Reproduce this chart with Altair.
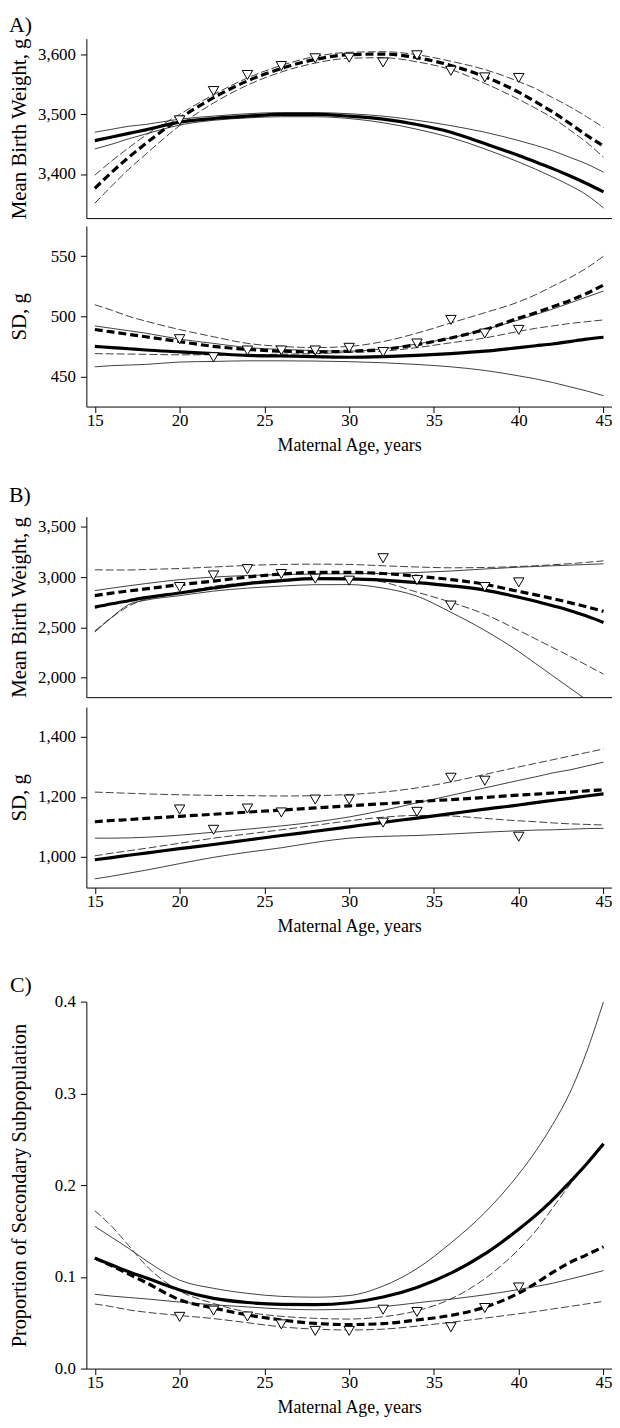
import altair as alt
import pandas as pd

# ---------------- data ----------------
AGES = [15, 16, 17, 18, 20, 22, 24, 26, 28, 30, 32, 34, 36, 38, 40, 41, 42, 43, 44, 45]
TRI_AGES = [20, 22, 24, 26, 28, 30, 32, 34, 36, 38, 40]
XTICKS = [15, 20, 25, 30, 35, 40, 45]

# Panel A – mean birth weight (g)
A_BW_SOLID = [3456, 3462, 3468, 3474, 3487, 3493, 3497, 3500, 3500, 3497, 3492, 3483, 3470, 3451, 3431, 3420, 3409, 3397, 3384, 3370]
A_BW_SOLID_HI = [3470, 3475, 3480, 3483, 3492, 3497, 3501, 3503, 3503, 3501, 3497, 3490, 3481, 3470, 3456, 3448, 3439, 3428, 3417, 3403]
A_BW_SOLID_LO = [3442, 3450, 3459, 3467, 3482, 3490, 3494, 3496, 3496, 3493, 3486, 3475, 3461, 3442, 3420, 3408, 3395, 3381, 3365, 3343]
A_BW_DASH = [3376, 3403, 3428, 3451, 3493, 3528, 3556, 3577, 3592, 3600, 3601, 3595, 3582, 3563, 3537, 3521, 3504, 3485, 3465, 3447]
A_BW_DASH_HI = [3398, 3422, 3444, 3465, 3500, 3533, 3561, 3582, 3597, 3604, 3605, 3600, 3589, 3575, 3555, 3543, 3528, 3513, 3496, 3478]
A_BW_DASH_LO = [3351, 3380, 3408, 3433, 3481, 3519, 3549, 3571, 3586, 3594, 3595, 3588, 3575, 3552, 3525, 3510, 3494, 3474, 3453, 3428]
A_BW_TRI = [3490, 3539, 3566, 3581, 3594, 3595, 3587, 3599, 3573, 3562, 3561]

# Panel A – SD (g)
A_SD_SOLID = [475, 474, 473, 472, 470.5, 469, 467.5, 467, 466.5, 466, 466.5, 467.5, 469, 471, 474, 475.5, 477, 479, 481, 482.6]
A_SD_SOLID_HI = [492, 490, 488, 486, 481, 477.5, 474, 472.5, 471.5, 471, 473, 477, 482, 489, 497, 501.5, 506, 511, 516, 521]
A_SD_SOLID_LO = [458, 459, 459.5, 460, 462, 462.5, 463, 463, 462.8, 462.3, 461.4, 460, 458, 455, 450.5, 448, 445, 441.5, 438, 434]
A_SD_DASH = [489, 487, 485, 483, 479, 475, 472.5, 471, 470.5, 471, 472.5, 476.5, 482, 489, 498.5, 503, 508, 513, 519, 526]
A_SD_DASH_HI = [509.6, 505, 500, 496, 489, 483, 477.5, 475, 474, 475, 479, 486, 494.5, 503, 512, 518, 525, 532, 540, 550]
A_SD_DASH_LO = [469, 468.8, 468.6, 468.4, 468, 468, 468, 468.5, 469, 470, 471, 474, 478, 482, 487.5, 490, 492, 494, 495.5, 497]
A_SD_TRI = [481, 466, 471.6, 471.6, 471.6, 473.8, 470.3, 477.4, 497, 485.7, 488.7]

# Panel B – mean birth weight (g)
B_BW_SOLID = [2701, 2735, 2765, 2795, 2842, 2891, 2935, 2965, 2984, 2982, 2970, 2945, 2913, 2870, 2800, 2760, 2715, 2668, 2612, 2548]
B_BW_SOLID_HI = [2865, 2890, 2913, 2935, 2974, 3000, 3015, 3025, 3030, 3032, 3035, 3045, 3060, 3080, 3098, 3105, 3112, 3118, 3125, 3131]
B_BW_SOLID_LO = [2454, 2600, 2727, 2770, 2815, 2860, 2890, 2910, 2924, 2925, 2890, 2810, 2650, 2470, 2260, 2140, 2020, 1900, 1780, 1660]
B_BW_DASH = [2816, 2840, 2862, 2882, 2924, 2960, 3000, 3030, 3046, 3046, 3035, 3008, 2975, 2928, 2857, 2823, 2786, 2746, 2704, 2659]
B_BW_DASH_HI = [3072, 3070, 3070, 3075, 3085, 3100, 3115, 3125, 3128, 3125, 3112, 3100, 3092, 3095, 3105, 3112, 3122, 3133, 3146, 3161]
B_BW_DASH_LO = [2464, 2600, 2711, 2780, 2842, 2908, 2945, 2970, 2988, 2985, 2950, 2850, 2750, 2630, 2470, 2385, 2300, 2215, 2125, 2036]
B_BW_TRI = [2901, 3016, 3079, 3030, 2984, 2964, 3187, 2970, 2717, 2901, 2947]

# Panel B – SD (g)
B_SD_SOLID = [990, 997, 1005, 1012, 1027, 1041, 1056, 1071, 1085, 1100, 1115, 1129, 1144, 1159, 1173, 1181, 1188, 1195, 1203, 1210]
B_SD_SOLID_HI = [1062, 1062, 1063, 1065, 1072, 1082, 1092, 1103, 1116, 1133, 1155, 1180, 1205, 1230, 1255, 1267, 1280, 1290, 1303, 1316]
B_SD_SOLID_LO = [926, 935, 945, 955, 977, 998, 1015, 1030, 1048, 1062, 1068, 1071, 1076, 1082, 1087, 1089, 1090, 1092, 1094, 1095]
B_SD_DASH = [1117, 1121, 1124, 1128, 1135, 1142, 1149, 1156, 1163, 1170, 1177, 1184, 1191, 1198, 1206, 1209, 1213, 1216, 1220, 1224]
B_SD_DASH_HI = [1216, 1214, 1212, 1210, 1207, 1205, 1204, 1203, 1204, 1208, 1216, 1230, 1250, 1275, 1300, 1312, 1324, 1336, 1348, 1360]
B_SD_DASH_LO = [1003, 1012, 1020, 1028, 1045, 1062, 1076, 1090, 1105, 1120, 1132, 1138, 1136, 1128, 1120, 1117, 1113, 1110, 1108, 1106]
B_SD_TRI = [1158, 1090, 1161, 1148, 1191, 1191, 1114, 1150, 1264, 1254, 1067]

# Panel C – proportion of secondary subpopulation
C_SOLID = [0.1204, 0.113, 0.1055, 0.099, 0.0857, 0.0765, 0.072, 0.0700, 0.0697, 0.0718, 0.078, 0.0885, 0.104, 0.125, 0.152, 0.167, 0.184, 0.203, 0.223, 0.245]
C_SOLID_HI = [0.155, 0.143, 0.131, 0.118, 0.0964, 0.0875, 0.082, 0.0787, 0.0778, 0.0796, 0.090, 0.109, 0.137, 0.170, 0.212, 0.237, 0.266, 0.300, 0.345, 0.40]
C_SOLID_LO = [0.081, 0.079, 0.0775, 0.076, 0.0725, 0.0695, 0.0672, 0.065, 0.0641, 0.0648, 0.0675, 0.0717, 0.0757, 0.0804, 0.0862, 0.0895, 0.093, 0.0975, 0.102, 0.1068]
C_DASH = [0.1204, 0.112, 0.103, 0.094, 0.075, 0.066, 0.0585, 0.053, 0.0492, 0.048, 0.049, 0.053, 0.058, 0.067, 0.0823, 0.093, 0.1048, 0.1155, 0.124, 0.1328]
C_DASH_HI = [0.172, 0.155, 0.134, 0.1127, 0.0846, 0.071, 0.0615, 0.057, 0.0548, 0.054, 0.0565, 0.063, 0.076, 0.098, 0.130, 0.150, 0.175, 0.200, 0.222, 0.243]
C_DASH_LO = [0.0704, 0.0675, 0.064, 0.0615, 0.0579, 0.0545, 0.050, 0.0455, 0.043, 0.0421, 0.043, 0.0463, 0.0505, 0.055, 0.0598, 0.0622, 0.065, 0.0677, 0.0705, 0.0733]
C_TRI = [0.0564, 0.0632, 0.0568, 0.0482, 0.0411, 0.0411, 0.0642, 0.0617, 0.0451, 0.066, 0.0884]

# ---------------- styling ----------------
FONT = "Liberation Serif"
W = 530
STYLE = {
    "thin_solid": dict(strokeWidth=0.9, color="#2a2a2a"),
    "thin_dash": dict(strokeWidth=0.9, color="#2a2a2a", strokeDash=[8, 3]),
    "thick_solid": dict(strokeWidth=3.2, color="black"),
    "thick_dash": dict(strokeWidth=3.2, color="black", strokeDash=[8, 4]),
}


def make_panel(lines, tri, ydom, yticks, yfmt, ytitle, height, show_x,
               title=None, title_offset=0, ytitle_size=21):
    frames = []
    for nm, st, vals in lines:
        frames.append(pd.DataFrame({"age": AGES, "value": vals, "series": nm, "style": st}))
    ldf = pd.concat(frames, ignore_index=True)
    tdf = pd.DataFrame({"age": TRI_AGES, "value": tri})

    xscale = alt.Scale(domain=[14.5, 45.5], nice=False, zero=False)
    if show_x:
        x = alt.X("age:Q", title="Maternal Age, years", scale=xscale,
                  axis=alt.Axis(values=XTICKS, tickSize=6, labelPadding=0, labelFontSize=17,
                                titleFontSize=18, titlePadding=8, grid=False, labelFlush=False,
                                titleFontWeight="normal"))
    else:
        x = alt.X("age:Q", title=None, scale=xscale,
                  axis=alt.Axis(labels=False, ticks=False, grid=False))
    y = alt.Y("value:Q", title=ytitle,
              scale=alt.Scale(domain=ydom, nice=False, zero=False),
              axis=alt.Axis(values=yticks, format=yfmt, titleX=-67, titleY=height / 2,
                            titleAngle=-90, titleAlign="center", titleBaseline="middle",
                            titleFontSize=ytitle_size, titleFontWeight="normal",
                            tickSize=6, labelPadding=5, labelFontSize=17, grid=False))

    base = alt.Chart(ldf).encode(x=x, y=y, detail="series:N")
    layers = []
    for st in ["thin_solid", "thin_dash", "thick_solid", "thick_dash"]:
        layers.append(
            base.transform_filter(alt.datum.style == st)
            .mark_line(clip=True, interpolate="monotone", **STYLE[st])
        )
    pts = alt.Chart(tdf).mark_point(
        shape="triangle-down", size=110, filled=True, fill="white",
        stroke="black", strokeWidth=1, opacity=1
    ).encode(x=x, y=y)
    ch = alt.layer(*layers, pts).properties(width=W, height=height)
    if title:
        ch = ch.properties(title=alt.TitleParams(
            text=title, anchor="start", frame="bounds", fontSize=22,
            fontWeight="normal", offset=title_offset, color="black", font=FONT))
    return ch


def series(solid, solid_hi, solid_lo, dash, dash_hi, dash_lo):
    return [
        ("solid upper", "thin_solid", solid_hi),
        ("solid lower", "thin_solid", solid_lo),
        ("dashed upper", "thin_dash", dash_hi),
        ("dashed lower", "thin_dash", dash_lo),
        ("solid fit", "thick_solid", solid),
        ("dashed fit", "thick_dash", dash),
    ]


a_top = make_panel(series(A_BW_SOLID, A_BW_SOLID_HI, A_BW_SOLID_LO, A_BW_DASH, A_BW_DASH_HI, A_BW_DASH_LO),
                   A_BW_TRI, [3326, 3627], [3400, 3500, 3600], ",.0f", "Mean Birth Weight, g", 181, False,
                   title="A)", title_offset=1)
a_bot = make_panel(series(A_SD_SOLID, A_SD_SOLID_HI, A_SD_SOLID_LO, A_SD_DASH, A_SD_DASH_HI, A_SD_DASH_LO),
                   A_SD_TRI, [425, 575], [450, 500, 550], ",.0f", "SD, g", 182, True)
b_top = make_panel(series(B_BW_SOLID, B_BW_SOLID_HI, B_BW_SOLID_LO, B_BW_DASH, B_BW_DASH_HI, B_BW_DASH_LO),
                   B_BW_TRI, [1807, 3600], [2000, 2500, 3000, 3500], ",.0f", "Mean Birth Weight, g", 182, False,
                   title="B)", title_offset=9.5)
b_bot = make_panel(series(B_SD_SOLID, B_SD_SOLID_HI, B_SD_SOLID_LO, B_SD_DASH, B_SD_DASH_HI, B_SD_DASH_LO),
                   B_SD_TRI, [897, 1500], [1000, 1200, 1400], ",.0f", "SD, g", 182, True)
c_pan = make_panel(series(C_SOLID, C_SOLID_HI, C_SOLID_LO, C_DASH, C_DASH_HI, C_DASH_LO),
                   C_TRI, [0, 0.4], [0, 0.1, 0.2, 0.3, 0.4], ".1f",
                   "Proportion of Secondary Subpopulation", 370, True,
                   title="C)", title_offset=-4.3, ytitle_size=20.5)

group_a = alt.vconcat(a_top, a_bot, spacing=7)
group_b = alt.vconcat(b_top, b_bot, spacing=9)
group_ab = alt.vconcat(group_a, group_b, spacing=30)

chart = (
    alt.vconcat(group_ab, c_pan, spacing=39)
    .properties(padding={"left": 0, "top": 0, "right": 0, "bottom": 0})
    .configure(font=FONT)
    .configure_view(stroke=None)
    .configure_axis(domainColor="black", tickColor="black", labelColor="black",
                    titleColor="black", labelFont=FONT, titleFont=FONT,
                    domainWidth=1, tickWidth=1)
    .configure_title(font=FONT, fontWeight="normal", color="black")
)

chart.save("out.html", embed_options={"renderer": "svg", "actions": False})
